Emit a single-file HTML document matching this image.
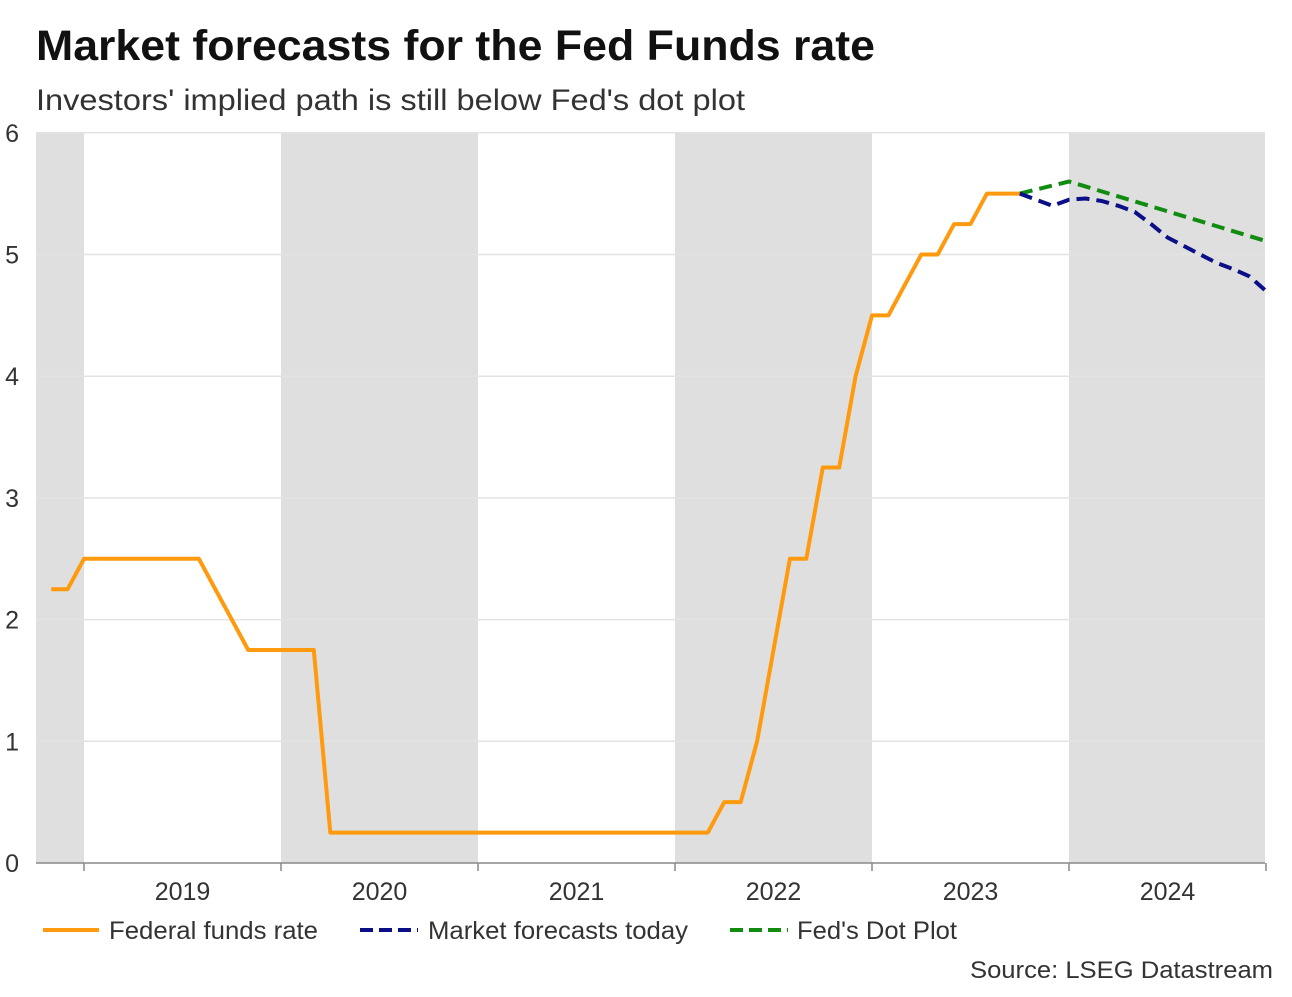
<!DOCTYPE html>
<html><head><meta charset="utf-8"><style>
body{margin:0;background:#fff;font-family:"Liberation Sans",Arial,sans-serif;}
svg text{font-family:"Liberation Sans",Arial,sans-serif;}
</style></head><body>
<svg width="1292" height="992" viewBox="0 0 1292 992">
<text x="36" y="60" font-size="43" font-weight="bold" fill="#111" textLength="839" lengthAdjust="spacingAndGlyphs">Market forecasts for the Fed Funds rate</text>
<text x="36" y="110" font-size="30" fill="#333" textLength="709" lengthAdjust="spacingAndGlyphs">Investors' implied path is still below Fed's dot plot</text>
<g id="bands"></g><g id="grid"></g><g id="axes"></g><g id="lines"></g>
<g>
<line x1="43" y1="930" x2="99" y2="930" stroke="#ff9a0e" stroke-width="4"/>
<text x="109" y="939" font-size="25" fill="#333" textLength="209" lengthAdjust="spacingAndGlyphs">Federal funds rate</text>
<line x1="360" y1="930" x2="418" y2="930" stroke="#0b0f87" stroke-width="4" stroke-dasharray="13,6"/>
<text x="428" y="939" font-size="25" fill="#333" textLength="260" lengthAdjust="spacingAndGlyphs">Market forecasts today</text>
<line x1="730" y1="930" x2="788" y2="930" stroke="#118c11" stroke-width="4" stroke-dasharray="13,6"/>
<text x="797" y="939" font-size="25" fill="#333" textLength="160" lengthAdjust="spacingAndGlyphs">Fed's Dot Plot</text>
</g>
<text x="970" y="978" font-size="24" fill="#333" textLength="303" lengthAdjust="spacingAndGlyphs">Source: LSEG Datastream</text>
</svg>
<script>
const years=[2019,2020,2021,2022,2023,2024];
const yTicks=[0,1,2,3,4,5,6];
const fedMonths=[-2,-1,0,1,2,3,4,5,6,7,8,9,10,11,12,13,14,15,16,17,18,19,20,21,22,23,24,25,26,27,28,29,30,31,32,33,34,35,36,37,38,39,40,41,42,43,44,45,46,47,48,49,50,51,52,53,54,55,56,57];
const fedValues=[2.25,2.25,2.5,2.5,2.5,2.5,2.5,2.5,2.5,2.5,2.25,2.0,1.75,1.75,1.75,1.75,1.75,0.25,0.25,0.25,0.25,0.25,0.25,0.25,0.25,0.25,0.25,0.25,0.25,0.25,0.25,0.25,0.25,0.25,0.25,0.25,0.25,0.25,0.25,0.25,0.25,0.5,0.5,1.0,1.75,2.5,2.5,3.25,3.25,4.0,4.5,4.5,4.75,5.0,5.0,5.25,5.25,5.5,5.5,5.5];
const mktMonths=[57,59,60,61,62,63,64,65,66,67,68,69,70,71,72];
const mktValues=[5.5,5.4,5.45,5.46,5.44,5.4,5.35,5.25,5.14,5.07,5.0,4.93,4.88,4.82,4.7];
const dotMonths=[57,60,72];
const dotValues=[5.5,5.6,5.11];
const NS="http://www.w3.org/2000/svg";
const X0=84,MW=197/12,Y0=863,YU=121.7,L=36,R=1265;
const xs=m=>X0+m*MW, ys=v=>Y0-v*YU;
function mk(tag,attrs,parent){const e=document.createElementNS(NS,tag);for(const k in attrs)e.setAttribute(k,attrs[k]);parent.appendChild(e);return e;}
const bands=document.getElementById('bands'),grid=document.getElementById('grid'),axes=document.getElementById('axes'),lines=document.getElementById('lines');
[2018,2020,2022,2024].forEach(y=>{
  const a=Math.max(L,xs((y-2019)*12)),b=Math.min(R,xs((y-2018)*12));
  const r=mk('rect',{x:a,y:ys(6),width:b-a,height:ys(0)-ys(6),fill:'#dfdfdf'},bands);
  
  
});
yTicks.forEach(v=>{
  if(v>0){const g=mk('line',{x1:L,x2:R,y1:ys(v),y2:ys(v),stroke:'#e3e3e3','stroke-width':1.5},grid);
  
  }
  const t=mk('text',{x:19,y:ys(v)+9,'font-size':25,fill:'#333','text-anchor':'end'},axes);
  t.textContent=v;
  
  
});
const ax=mk('line',{x1:L,x2:R,y1:Y0,y2:Y0,stroke:'#888','stroke-width':1.5},axes);


[2019,2020,2021,2022,2023,2024,2025].forEach(y=>{
  const x=xs((y-2019)*12);
  const t=mk('line',{x1:x,x2:x,y1:Y0,y2:Y0+8,stroke:'#888','stroke-width':1.5},axes);
  
  
});
years.forEach(y=>{
  const t=mk('text',{x:xs((y-2019)*12+6),y:Y0+37,'font-size':25,fill:'#333','text-anchor':'middle'},axes);
  t.textContent=y;
  
  
});
function path(ms,vs,color,dash,name){
  const d=ms.map((m,i)=>(i?'L':'M')+xs(m).toFixed(1)+','+ys(vs[i]).toFixed(1)).join(' ');
  const p=mk('path',{d:d,fill:'none',stroke:color,'stroke-width':4,'stroke-linejoin':'round'},lines);
  if(dash)p.setAttribute('stroke-dasharray',dash);
  
  
}
path(fedMonths,fedValues,'#ff9a0e',null,'federal-funds-rate-line');
path(dotMonths,dotValues,'#118c11','13,7','fed-dot-plot-line');
path(mktMonths,mktValues,'#0b0f87','13,7','market-forecasts-line');
</script>
</body></html>
